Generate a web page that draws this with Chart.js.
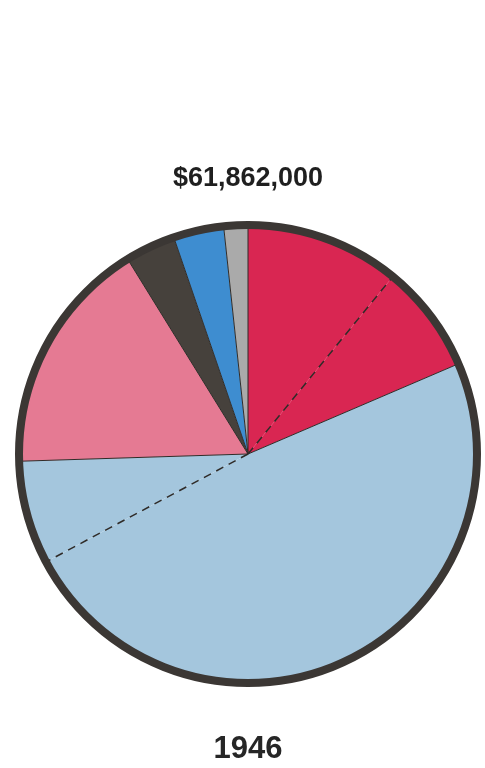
<!DOCTYPE html>
<html>
<head>
<meta charset="utf-8">
<script src="https://cdn.jsdelivr.net/npm/chart.js@4"></script>
<style>
  html, body { margin: 0; padding: 0; background: #fff; }
  #wrap { width: 485px; height: 768px; }
</style>
</head>
<body>
<div id="wrap"><canvas id="pie"></canvas></div>
<script>
// Data (millions of dollars, clockwise from 12 o'clock)
const totalLabel = '$61,862,000';
const yearLabel = '1946';
const categories = ['Red A', 'Red B', 'Light blue A', 'Light blue B', 'Pink', 'Dark', 'Blue', 'Gray'];
const amounts = [6.74, 4.74, 30.09, 4.52, 10.33, 2.20, 2.20, 1.05];

// Styles
const sliceColors = ['#d92652', '#d92652', '#a4c6dd', '#a4c6dd', '#e57a93', '#46413c', '#3e8dd0', '#aaaaaa'];
const dashedStart = [false, true, false, true, false, false, false, false];

// draws slice edges and the dark rim
const edgePlugin = {
    id: 'edges',
    afterDatasetsDraw(chart) {
        const ctx = chart.ctx;
        const arcs = chart.getDatasetMeta(0).data;
        const { x, y, outerRadius } = arcs[0];
        ctx.save();
        ctx.strokeStyle = '#2f2b28';
        arcs.forEach((arc, i) => {
            const a = arc.startAngle;
            ctx.setLineDash(dashedStart[i] ? [8, 6] : []);
            ctx.lineWidth = dashedStart[i] ? 1.5 : 1;
            ctx.beginPath();
            ctx.moveTo(x, y);
            ctx.lineTo(x + Math.cos(a) * outerRadius, y + Math.sin(a) * outerRadius);
            ctx.stroke();
        });
        ctx.setLineDash([]);
        ctx.lineWidth = 8;
        ctx.strokeStyle = '#3b3734';
        ctx.beginPath();
        ctx.arc(x, y, outerRadius + 3, 0, Math.PI * 2);
        ctx.stroke();
        ctx.restore();
    }
};

new Chart(document.getElementById('pie'), {
    type: 'pie',
    data: {
        labels: categories,
        datasets: [{
            data: amounts,
            backgroundColor: sliceColors,
            borderWidth: 0
        }]
    },
    options: {
        responsive: true,
        maintainAspectRatio: false,
        animation: false,
        layout: { padding: { left: 22, right: 11, top: 0, bottom: 0 } },
        plugins: {
            legend: { display: false },
            tooltip: { enabled: false },
            title: {
                display: true,
                text: totalLabel,
                color: '#1f1f1f',
                font: { family: 'Liberation Sans, Arial, sans-serif', size: 27, weight: 'bold' },
                padding: { top: 162, bottom: 33.6 }
            },
            subtitle: {
                display: true,
                position: 'bottom',
                text: yearLabel,
                color: '#262626',
                font: { family: 'Liberation Sans, Arial, sans-serif', size: 31, weight: 'bold' },
                padding: { top: 50.8, bottom: 0 }
            }
        }
    },
    plugins: [edgePlugin]
});
</script>
</body>
</html>
